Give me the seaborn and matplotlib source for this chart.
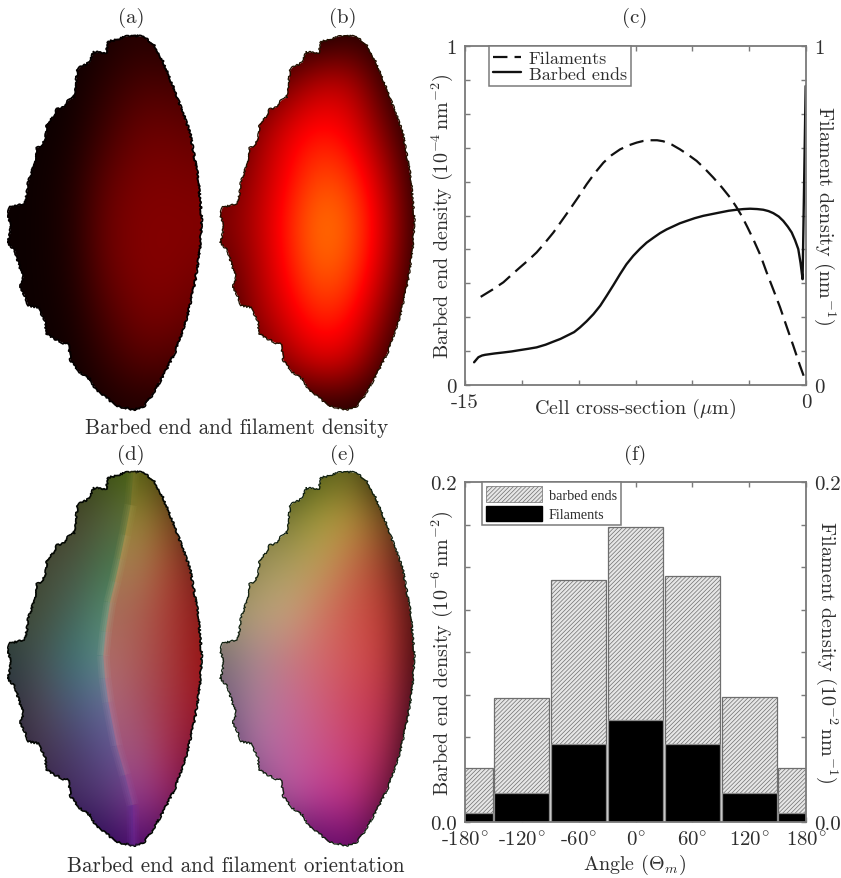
import numpy as np
import matplotlib
matplotlib.use("Agg")
import matplotlib.pyplot as plt
from matplotlib.patches import Polygon, Patch
from matplotlib.collections import LineCollection
from matplotlib.colors import to_rgb
import seaborn as sns

W, H = 841, 879
sns.set_theme(style="ticks")
plt.rcParams.update({
    "font.family": ["cmr10", "DejaVu Serif"],
    "mathtext.fontset": "cm",
    "axes.unicode_minus": False,
    "axes.formatter.use_mathtext": True,
    "hatch.linewidth": 0.5,
    "text.color": "#2e2e2e",
    "axes.labelcolor": "#2e2e2e",
    "xtick.labelcolor": "#2e2e2e",
    "ytick.labelcolor": "#2e2e2e",
})

# ---- panel (c) ----
fil_x = [-14.31, -13.8, -13.31, -12.95, -12.58, -12.2, -11.85, -11.5, -11.11, -10.75, -10.38, -10.0, -9.65,
         -9.28, -8.91, -8.55, -8.18, -7.8, -7.45, -7.15, -6.86, -6.55, -6.28, -5.9, -5.54, -5.18, -4.81,
         -4.45, -4.08, -3.7, -3.34, -3.08, -2.83, -2.58, -2.32, -2.0, -1.73, -1.43, -1.14, -.85, -.56, -.28, 0.0]
fil_y = [.260, .281, .303, .325, .347, .369, .391, .418, .450, .484, .519, .556, .592,
         .626, .656, .678, .695, .707, .715, .720, .722, .722, .719, .709, .695, .679, .661,
         .638, .612, .583, .553, .527, .499, .466, .430, .382, .332, .280, .229, .172, .116, .060, .008]
bar_x = [-14.60, -14.5, -14.41, -14.25, -14.12, -13.7, -13.31, -12.95, -12.58, -12.2, -11.85, -11.45, -11.11,
         -10.8, -10.53, -10.2, -9.94, -9.65, -9.35, -9.05, -8.77, -8.47, -8.18, -7.9, -7.60, -7.3, -7.01,
         -6.7, -6.42, -6.13, -5.84, -5.55, -5.25, -4.9, -4.52, -4.15, -3.78, -3.4, -3.05, -2.75, -2.46,
         -2.15, -1.88, -1.65, -1.44, -1.2, -1.0, -.8, -.63, -.48, -.34, -.24, -.15, -.015]
bar_y = [.067, .075, .082, .087, .089, .093, .096, .099, .103, .107, .111, .119, .128,
         .136, .145, .156, .170, .188, .209, .234, .263, .295, .327, .356, .381, .402, .420,
         .435, .448, .459, .468, .477, .484, .492, .499, .504, .509, .514, .517, .519, .520,
         .519, .517, .513, .507, .497, .484, .467, .450, .427, .401, .360, .312, .882]

# ---- panel (f) ----
angles = [-180, -120, -60, 0, 60, 120, 180]
angle_labels = ["-180", "-120", "-60", "0", "60", "120", "180"]
barbed_hist = [.032, .0731, .1424, .1735, .1447, .0735, .032]
filament_hist = [.0055, .0169, .0457, .0600, .0457, .0169, .0055]

# ---- cell outline (picture coordinates): left flank top to bottom, then right flank upwards ----
left_x = [400, 380, 350, 325, 318, 305, 280, 270, 240, 232, 228, 222, 205, 190, 170, 160, 140, 138, 125, 110,
          105, 95, 85, 80, 72, 30, 22, 28, 32, 22, 45, 55, 70, 60, 75, 85, 115, 135, 140, 165, 190, 205,
          212, 240, 270, 290, 320, 345, 400]
left_y = [110, 112, 122, 128, 162, 160, 160, 190, 205, 215, 255, 295, 305, 325, 330, 355, 375, 410, 440, 448,
          485, 520, 550, 590, 615, 625, 650, 660, 700, 730, 755, 790, 835, 865, 890, 920, 925, 965, 1005,
          1020, 1032, 1035, 1085, 1120, 1140, 1175, 1195, 1220, 1232]
right_x = [430, 455, 490, 525, 560, 585, 600, 605, 595, 570, 530, 490, 460, 430]
right_y = [1225, 1190, 1130, 1060, 960, 850, 750, 660, 540, 400, 290, 190, 135, 113]
ridge_x = [400, 392, 375, 360, 345, 330, 317, 310, 315, 325, 350, 375, 398, 400]
ridge_y = [110, 210, 300, 372, 440, 502, 590, 662, 730, 802, 932, 1020, 1110, 1232]
ridge_colors = ["#7a7a30", "#9a9448", "#a8a05c", "#a8a46c", "#a8a87c", "#a4a88c", "#a4a89c", "#a49ca0",
                "#a490a8", "#a080a8", "#9870a0", "#8c58a0", "#7030a0"]

# ---- colour fields: rows top to bottom, columns left to right ----
grid_a = [[0, 0, 0, .02, .04, .02, 0],
          [0, 0, .008, .05, .09, .09, .05],
          [0, 0, .015, .08, .14, .14, .12],
          [0, .004, .03, .125, .17, .17, .16],
          [0, .005, .035, .15, .18, .18, .18],
          [0, .005, .03, .14, .18, .18, .16],
          [0, .004, .02, .10, .16, .16, .12],
          [0, 0, .01, .06, .11, .10, .06],
          [0, 0, 0, .02, .03, .02, 0]]
grid_b = [[0, 0, 0, 0, .04, .02, 0],
          [0, .05, .15, .27, .26, .06, 0],
          [0, .18, .32, .39, .34, .15, 0],
          [.10, .22, .36, .48, .44, .25, .02],
          [.17, .24, .40, .55, .50, .30, .03],
          [.10, .22, .38, .52, .47, .27, .02],
          [.05, .20, .32, .43, .39, .18, 0],
          [0, .10, .22, .32, .28, .08, 0],
          [0, 0, 0, .02, .03, 0, 0]]
grid_d_left = [["#0a1a0a", "#1a2a10", "#2a3a10", "#3c5010", "#4a6410", "#4a6410", "#4a6410"],
               ["#201c10", "#3c3723", "#4b462d", "#555f3c", "#66783a", "#7a8840", "#7a8840"],
               ["#2c2c20", "#464b37", "#4b5541", "#46734b", "#4e7e4e", "#60884e", "#60884e"],
               ["#3c4632", "#46503c", "#46645a", "#528a6c", "#649078", "#649078", "#649078"],
               ["#283c3c", "#465555", "#3c7373", "#608f86", "#80958c", "#80958c", "#80958c"],
               ["#2d2d3c", "#504655", "#4b5a7d", "#646a98", "#80749c", "#80749c", "#80749c"],
               ["#281e32", "#463750", "#4b3c69", "#5a508c", "#785a96", "#805a96", "#805a96"],
               ["#1e1430", "#321e46", "#462d64", "#553773", "#823c91", "#823c91", "#823c91"],
               ["#0a0028", "#14003c", "#1e0046", "#300a5a", "#500a6e", "#500a6e", "#500a6e"]]
grid_d_right = [["#5a6414", "#5a6414", "#5a6414", "#5a6414", "#5a6414", "#32280a", "#100800"],
                ["#968737", "#968737", "#968737", "#968737", "#968737", "#7d4b1e", "#140a00"],
                ["#a57d50", "#a57d50", "#a57d50", "#a57d50", "#a57d50", "#a5412d", "#5a140f"],
                ["#a56e5a", "#a56e5a", "#a56e5a", "#a56e5a", "#aa5f50", "#aa3732", "#821414"],
                ["#af6e69", "#af6e69", "#af6e69", "#af6e69", "#aa5a55", "#a53737", "#960f0f"],
                ["#aa697d", "#aa697d", "#aa697d", "#aa697d", "#a55064", "#a53241", "#960f1e"],
                ["#a0557d", "#a0557d", "#a0557d", "#a0557d", "#a0557d", "#a5284b", "#6e0a28"],
                ["#913c8c", "#913c8c", "#913c8c", "#913c8c", "#913c8c", "#961e64", "#320028"],
                ["#500a6e", "#500a6e", "#500a6e", "#500a6e", "#500a6e", "#3c0a46", "#100010"]]
grid_e = [["#0a1a08", "#202808", "#304010", "#505a14", "#64641e", "#141400", "#050500"],
          ["#283010", "#78733c", "#787832", "#a5a03c", "#b9963c", "#78501e", "#100804"],
          ["#645f30", "#968c55", "#aaa05f", "#bea05a", "#c36e4b", "#a03c28", "#1e0a0a"],
          ["#969669", "#b4a073", "#c3a57d", "#cd7d64", "#cd554b", "#be3c32", "#3c0a0a"],
          ["#786e6e", "#a58791", "#c37d82", "#d2696e", "#d25555", "#c33c3c", "#3c050a"],
          ["#6e557d", "#a57d96", "#c36e9b", "#cd5f7d", "#cd465f", "#be324b", "#320514"],
          ["#503c64", "#a56ea0", "#be64a0", "#c8558c", "#cd4173", "#aa2850", "#14000a"],
          ["#3c2850", "#6e3c78", "#b45aa0", "#be3c96", "#be3282", "#781446", "#0a0005"],
          ["#100418", "#200830", "#400a50", "#5a0a64", "#6e0a6e", "#300a30", "#050005"]]

col_px = 100  # spacing of the colour grids in outline coordinates
row_px = 140
hot = matplotlib.colormaps["hot"].resampled(4096)

outline = np.column_stack([left_x + right_x, left_y + right_y])
ridge = np.column_stack([ridge_x, ridge_y])
part_left = np.vstack([np.column_stack([left_x, left_y]), ridge[::-1]])


def ftext(px, py, s, **kw):
    kw.setdefault("ha", "center")
    kw.setdefault("va", "center")
    kw.setdefault("fontsize", 15)
    return fig.text(px / W, 1 - py / H, s, **kw)


def axes_px(left, top, right, bottom):
    return fig.add_axes([left / W, 1 - bottom / H, (right - left) / W, (bottom - top) / H])


def cell(dx, dy, layers, edge, lw, **im_kw):
    ax = axes_px((20 + dx) / 3, (100 + dy) / 3, (620 + dx) / 3, (1240 + dy) / 3)
    ext = (20 - col_px / 2, 620 + col_px / 2, 110 + 8 * row_px + row_px / 2, 110 - row_px / 2)
    for field, region in layers:
        im = ax.imshow(field, extent=ext, interpolation="bicubic", aspect="auto", **im_kw)
        im.set_clip_path(Polygon(region, closed=True, transform=ax.transData))
    poly = Polygon(outline, closed=True, fc="none", ec=edge, lw=lw, joinstyle="round")
    ax.add_patch(poly)
    poly.set_sketch_params(scale=0.9, length=4, randomness=16)
    ax.set_xlim(20, 620)
    ax.set_ylim(1240, 100)
    ax.axis("off")
    return ax


def to_rgb_grid(g):
    return np.array([[to_rgb(c) for c in row] for row in g])


fig = plt.figure(figsize=(W / 100, H / 100), dpi=100, facecolor="white")

cell(0, 0, [(np.array(grid_a), outline)], "#050000", 1.3, cmap=hot, vmin=0, vmax=1)
cell(638, 0, [(np.array(grid_b), outline)], "#201000", 0.9, cmap=hot, vmin=0, vmax=1)
axd = cell(0, 1308, [(to_rgb_grid(grid_d_right), outline), (to_rgb_grid(grid_d_left), part_left)],
           "#040804", 1.2)
segments = np.stack([ridge[:-1], ridge[1:]], axis=1)
for width, alpha in [(9, 0.14), (6, 0.16), (3, 0.22)]:
    axd.add_collection(LineCollection(segments, colors=ridge_colors, linewidths=width, alpha=alpha,
                                      capstyle="butt"))
cell(638, 1308, [(to_rgb_grid(grid_e), outline)], "#102010", 0.9)

GREY = "#7a7a7a"


def style(ax):
    for s in ax.spines.values():
        s.set_color(GREY)
        s.set_linewidth(1.3)
    ax.tick_params(which="both", direction="in", top=True, right=True, labelright=True,
                   color=GREY, length=3.6, width=1.0, labelsize=15, pad=6)


# ---- (c) ----
axc = axes_px(465, 47, 806, 386)
sns.lineplot(x=fil_x, y=fil_y, ax=axc, color="#111111", lw=1.6, linestyle=(0, (6.5, 3.2)),
             estimator=None, sort=False, label="Filaments")
sns.lineplot(x=bar_x, y=bar_y, ax=axc, color="#111111", lw=1.7,
             estimator=None, sort=False, label="Barbed ends")
axc.set_xlim(-15, 0)
axc.set_ylim(0, 1)
axc.set_xticks(np.arange(-15, 0.1, 2.5))
axc.set_xticklabels(["-15", "", "", "", "", "", "0"])
axc.set_yticks(np.arange(0, 1.01, 0.1))
axc.set_yticklabels(["0"] + [""] * 9 + ["1"])
style(axc)
leg = axc.legend(loc="upper left", bbox_to_anchor=(0.07, 1.0), borderaxespad=0, frameon=True, fancybox=False,
                 edgecolor=GREY, framealpha=1, fontsize=13, handlelength=1.55, handletextpad=0.4,
                 labelspacing=0.0, borderpad=0.25)
leg.get_frame().set_linewidth(1.1)

# ---- (f) ----
axf = axes_px(465, 483, 806, 823)
sns.barplot(x=angles, y=barbed_hist, ax=axf, native_scale=True, width=0.97, saturation=1, errorbar=None,
            color="#e6e6e6", edgecolor="#6e6e6e", hatch="////////", linewidth=0.9)
sns.barplot(x=angles, y=filament_hist, ax=axf, native_scale=True, width=0.97, saturation=1, errorbar=None,
            color="#000000", edgecolor="#8a8a8a", linewidth=0.9)
axf.set_xlim(-180, 180)
axf.set_ylim(0, 0.2)
axf.set_xticks(angles)
axf.set_xticklabels([a + r"$^{\circ}$" for a in angle_labels])
axf.set_yticks(np.arange(0, 0.201, 0.025))
axf.set_yticklabels(["0.0"] + [""] * 7 + ["0.2"])
style(axf)
legf = axf.legend(handles=[Patch(fc="#e6e6e6", ec="#6e6e6e", hatch="////////", lw=0.5), Patch(fc="black", ec="black")],
                  labels=["barbed ends", "Filaments"], loc="upper left", bbox_to_anchor=(0.05, 1.0),
                  borderaxespad=0, frameon=True, fancybox=False, edgecolor=GREY, framealpha=1,
                  prop={"family": "Liberation Serif", "size": 10.2}, handlelength=3.95, handleheight=1.3,
                  handletextpad=0.45, labelspacing=0.28, borderpad=0.3)
legf.get_frame().set_linewidth(1.1)

# ---- texts ----
for x, y, s in [(131, 18, "(a)"), (343, 18, "(b)"), (635, 18, "(c)"),
                (131, 455, "(d)"), (343, 455, "(e)"), (635, 455, "(f)")]:
    ftext(x, y, s)
ftext(237, 428, "Barbed end and filament density", fontsize=15.2)
ftext(236, 866, "Barbed end and filament orientation", fontsize=15.2)
ftext(635, 409, r"Cell cross-section ($\mu$m)", fontsize=14.5)
ftext(635, 865, r"Angle ($\Theta_m$)", fontsize=14.5)
ftext(442, 216, r"Barbed end density ($10^{-4}\,\mathrm{nm}^{-2}$)", rotation=90, fontsize=14.5)
ftext(825, 216, r"Filament density ($\mathrm{nm}^{-1}$)", rotation=270, fontsize=14.5)
ftext(442, 653, r"Barbed end density ($10^{-6}\,\mathrm{nm}^{-2}$)", rotation=90, fontsize=14.5)
ftext(827, 652, r"Filament density ($10^{-2}\,\mathrm{nm}^{-1}$)", rotation=270, fontsize=14.5)

fig.savefig("out.png", dpi=100)
